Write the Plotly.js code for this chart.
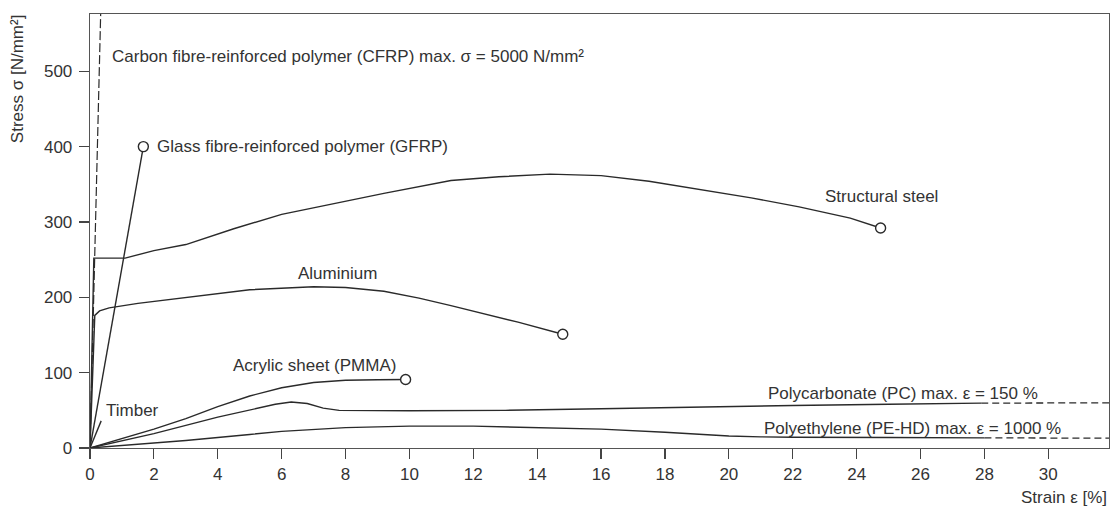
<!DOCTYPE html>
<html>
<head>
<meta charset="utf-8">
<script src="https://cdn.plot.ly/plotly-3.0.1.min.js"></script>
<style>html,body{margin:0;padding:0;background:#fff;}#chart{width:1111px;height:511px;}</style>
</head>
<body>
<div id="chart"></div>
<script>
// ---- data (strain in %, stress in N/mm²) ----
const cfrpStrain = [0, 2.9];
const cfrpStress = [0, 5000];

const gfrpStrain = [0, 1.67];
const gfrpStress = [0, 400];

const timberStrain = [0, 0.35];
const timberStress = [0, 36];

const steelStrain = [0, 0.12, 1.1, 2, 3, 4.5, 6, 8, 9.2, 11.3, 12.8, 14.4, 16, 17.5, 19.1, 20.7, 22.2, 23.8, 24.75];
const steelStress = [0, 252, 252, 262, 270, 291, 310, 328, 338, 355, 360, 363.5, 361.5, 354, 343, 332, 320, 305, 292];

const aluStrain = [0, 0.15, 0.3, 0.6, 1.5, 3, 5, 7, 8, 9.2, 10.3, 11.3, 12.4, 13.4, 14.8];
const aluStress = [0, 176, 182, 186, 192, 200, 210, 214, 213, 208, 199, 189, 178, 167, 151];

const pmmaStrain = [0, 1, 2, 3, 4, 5, 6, 7, 8, 9, 9.88];
const pmmaStress = [0, 12, 25, 39, 55, 69, 80, 87, 90, 90.5, 91];

const pcStrain = [0, 2, 4, 5, 5.8, 6.3, 6.8, 7.3, 7.8, 10, 13, 16, 19, 22, 25, 27.9];
const pcStress = [0, 19, 41, 51, 58, 61, 59, 53, 50, 49.5, 50, 52, 54.5, 56.5, 58, 59.5];
const pcTailStrain = [27.9, 31.9];
const pcTailStress = [59.5, 60];

const peStrain = [0, 1, 3, 5, 6, 8, 10, 12, 14, 16, 18, 19, 20, 21, 22, 25, 28];
const peStress = [0, 3, 10, 18, 22, 27, 29, 29, 27.5, 25, 21, 18.5, 16, 14.8, 14.3, 14, 13.5];
const peTailStrain = [28, 31.9];
const peTailStress = [13.5, 13];

const xTicks = [0, 2, 4, 6, 8, 10, 12, 14, 16, 18, 20, 22, 24, 26, 28, 30];
const yTicks = [0, 100, 200, 300, 400, 500];

// ---- drawing ----
const LC = '#2a2a2a';
const FONT = 'Liberation Sans, Arial, Helvetica, sans-serif';
function line(x, y, dash, w) {
  return {x: x, y: y, type: 'scatter', mode: 'lines', hoverinfo: 'skip', showlegend: false,
          line: {color: LC, width: w || 1.4, dash: dash || 'solid'}};
}
function endMarker(x, y) {
  return {x: [x[x.length - 1]], y: [y[y.length - 1]], type: 'scatter', mode: 'markers', showlegend: false,
          hoverinfo: 'skip', cliponaxis: false,
          marker: {symbol: 'circle', size: 10, color: '#fff', line: {color: LC, width: 1.4}}};
}

const traces = [
  line(cfrpStrain, cfrpStress, '9px,3px', 1.2),
  line(timberStrain, timberStress),
  line(steelStrain, steelStress),
  line(aluStrain, aluStress),
  line(pmmaStrain, pmmaStress),
  line(pcStrain, pcStress),
  line(pcTailStrain, pcTailStress, '7px,4px', 1.3),
  line(peStrain, peStress),
  line(peTailStrain, peTailStress, '7px,4px', 1.3),
  line(gfrpStrain, gfrpStress),
  endMarker(gfrpStrain, gfrpStress),
  endMarker(steelStrain, steelStress),
  endMarker(aluStrain, aluStress),
  endMarker(pmmaStrain, pmmaStress)
];

const tf = {family: FONT, size: 17, color: '#333'};
function lab(text, x, y) {
  return {text: text, x: x, y: y, xref: 'x', yref: 'y', xanchor: 'left', yanchor: 'middle',
          showarrow: false, font: tf};
}

const layout = {
  width: 1111, height: 511,
  margin: {l: 90, r: 2, t: 14, b: 63, pad: 0},
  paper_bgcolor: '#fff', plot_bgcolor: '#fff',
  showlegend: false,
  xaxis: {
    range: [0, 31.9], tickmode: 'array', tickvals: xTicks, ticktext: xTicks.map(String),
    ticks: 'outside', ticklen: 10, tickwidth: 1.2, tickcolor: '#444',
    showline: true, linecolor: '#555', linewidth: 1.3, mirror: true,
    showgrid: false, zeroline: false, tickfont: {family: FONT, size: 17, color: '#333'}
  },
  yaxis: {
    range: [0, 576], tickmode: 'array', tickvals: yTicks, ticktext: yTicks.map(String),
    ticks: 'outside', ticklen: 10, tickwidth: 1.2, tickcolor: '#444',
    showline: true, linecolor: '#555', linewidth: 1.3, mirror: true,
    showgrid: false, zeroline: false, tickfont: {family: FONT, size: 17, color: '#333'},
    ticklabelstandoff: 3
  },
  annotations: [
    lab('Carbon fibre-reinforced polymer (CFRP) max. σ = 5000 N/mm²', 0.63, 519),
    lab('Glass fibre-reinforced polymer (GFRP)', 2.05, 400),
    lab('Structural steel', 22.95, 334),
    lab('Aluminium', 6.45, 232),
    lab('Acrylic sheet (PMMA)', 4.4, 110),
    lab('Timber', 0.45, 50),
    lab('Polycarbonate (PC) max. ε = 150 %', 21.15, 72.5),
    lab('Polyethylene (PE-HD) max. ε = 1000 %', 21.05, 26),
    {text: 'Stress σ [N/mm²]', xref: 'paper', yref: 'paper', x: -0.0716, y: 0.85,
     xanchor: 'center', yanchor: 'middle', textangle: -90, showarrow: false, font: tf},
    {text: 'Strain ε [%]', xref: 'paper', yref: 'paper', x: 1, y: -0.114,
     xanchor: 'right', yanchor: 'middle', showarrow: false, font: tf}
  ]
};

Plotly.newPlot('chart', traces, layout, {displayModeBar: false, staticPlot: true});
</script>
</body>
</html>
